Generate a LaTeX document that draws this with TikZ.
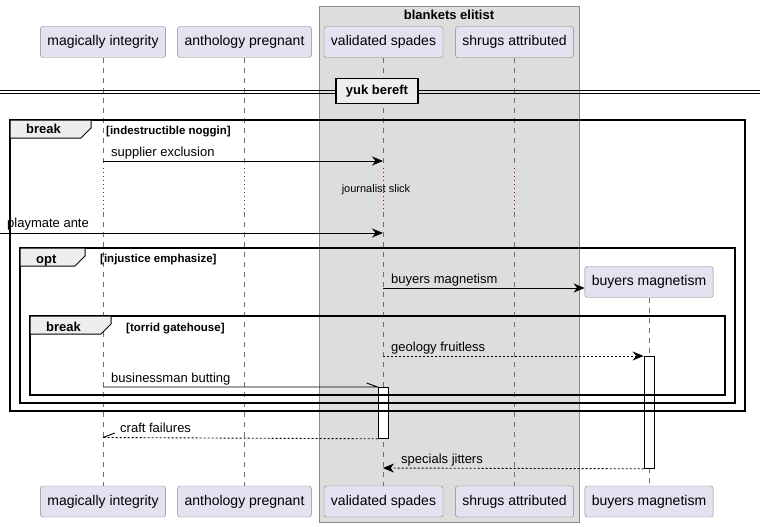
\documentclass[tikz,border=0pt]{standalone}
\usepackage{fontspec}
\setmainfont{Liberation Sans}
\usetikzlibrary{arrows.meta}
\definecolor{partfill}{HTML}{E2E2F0}
\definecolor{partline}{HTML}{858585}
\definecolor{grpfill}{HTML}{DDDDDD}
\definecolor{grpline}{HTML}{8A8A8A}
\definecolor{tabfill}{HTML}{EEEEEE}
\definecolor{lifegray}{HTML}{6E6E6E}
\definecolor{delayred}{HTML}{A80036}
\tikzset{
  actor/.style={draw=partline, fill=partfill, rounded corners=2.5pt, minimum height=31pt, inner xsep=7pt, font=\fontsize{14}{16}\selectfont},
  lifeline/.style={draw=lifegray, line width=0.8pt, dash pattern=on 5pt off 5pt},
  delayline/.style={draw=delayred, line width=0.8pt, dash pattern=on 1pt off 3pt},
  msg/.style={line width=0.9pt, -{Stealth[length=11pt,width=9pt,inset=3.5pt]}},
  rmsg/.style={msg, dash pattern=on 2pt off 2pt},
  msgtext/.style={anchor=base west, inner sep=0pt, font=\fontsize{13}{15}\selectfont},
  condtext/.style={anchor=base west, inner sep=0pt, font=\bfseries\fontsize{11.5}{13}\selectfont},
  tabtext/.style={anchor=base west, inner sep=0pt, font=\bfseries\fontsize{13}{15}\selectfont},
  grpframe/.style={draw, line width=1.5pt},
  grptab/.style={draw, line width=1pt, fill=tabfill},
  actbar/.style={draw, fill=white, line width=0.8pt, minimum width=10pt, inner sep=0pt, anchor=north},
}
\begin{document}
\begin{tikzpicture}[x=1pt,y=-1pt]
\useasboundingbox (0,0) rectangle (760,527);
% box round two participants
\draw[grpline, fill=grpfill] (319,6) rectangle (579,522);
\node[font=\bfseries\fontsize{13}{15}\selectfont] (grp) at (449,15) {blankets elitist};
% participants, top and bottom
\node[actor] (mi) at (103,42) {magically integrity};
\node[actor] (ap) at (244.5,42) {anthology pregnant};
\node[actor] (vs) at (383.5,42) {validated spades};
\node[actor] (sa) at (514.5,42) {shrugs attributed};
\node[actor] (mi-b) at (103,501.5) {magically integrity};
\node[actor] (ap-b) at (244.5,501.5) {anthology pregnant};
\node[actor] (vs-b) at (383.5,501.5) {validated spades};
\node[actor] (sa-b) at (514.5,501.5) {shrugs attributed};
\node[actor] (bm-b) at (649,501.5) {buyers magnetism};
% lifelines with the delay
\foreach \p in {mi,ap,vs,sa} {
  \draw[lifeline] (\p.south) -- (\p.south |- 0,168);
  \draw[delayline] (\p.south |- 0,168) -- (\p.south |- 0,212);
  \draw[lifeline] (\p.south |- 0,212) -- (\p-b.north);
}
\node[font=\fontsize{11}{12}\selectfont] (delay) at (376,190) {journalist slick};
% divider
\draw[line width=1pt] (0,90) -- (760,90);
\draw[line width=1pt] (0,93.3) -- (760,93.3);
\node[draw, line width=1.5pt, fill=tabfill, minimum width=82pt, minimum height=25pt, inner sep=0pt, font=\bfseries\fontsize{13}{15}\selectfont] (div) at (377,91) {yuk bereft};
% messages
\coordinate (m1a) at (103,161);
\coordinate (m1b) at (383,161);
\draw[msg] (m1a) -- (m1b);
\node[msgtext] (t1) at (111,156) {supplier exclusion};
\coordinate (m2a) at (0,233);
\coordinate (m2b) at (383,233);
\draw[msg] (m2a) -- (m2b);
\node[msgtext] (t2) at (7,227.5) {playmate ante};
\coordinate (m3a) at (383,288);
\node[actor] (bm) at (649,282) {buyers magnetism};
\draw[lifeline] (bm.south) -- (bm-b.north);
\draw[msg] (m3a) -- ([yshift=-6pt]bm.west);
\node[msgtext] (t3) at (391,283) {buyers magnetism};
\node[actbar, minimum height=112pt] (bmact) at (649,356) {};
\node[actbar, minimum height=51pt] (vsact) at (383,387) {};
\coordinate (m4a) at (383,356);
\draw[rmsg] (m4a) -- (bmact.north west);
\node[msgtext] (t4) at (391,351) {geology fruitless};
\coordinate (m5a) at (103,387);
\draw[line width=0.9pt] (m5a) -- (vsact.north west) -- ++(-11,-4);
\node[msgtext] (t5) at (111,382) {businessman butting};
\coordinate (m6b) at (103,437.5);
\draw[line width=0.9pt, dash pattern=on 2pt off 2pt] (vsact.south west) -- (m6b);
\draw[line width=0.9pt] (m6b) -- ++(12,-4.5);
\node[msgtext] (t6) at (120,432) {craft failures};
\coordinate (m7b) at (383,468);
\draw[rmsg] (bmact.south west) -- (m7b);
\node[msgtext] (t7) at (401,463) {specials jitters};
% groups
\draw[grpframe] (10,120) rectangle (745,411);
\draw[grptab] (10,120) -- (91,120) -- (91,128) -- (81,138) -- (10,138) -- cycle;
\node[tabtext] (g1) at (26,133.5) {break};
\node[condtext] (c1) at (106,134) {[indestructible noggin]};
\draw[grpframe] (20,248) rectangle (735,403);
\draw[grptab] (20,248) -- (85,248) -- (85,256) -- (75,266) -- (20,266) -- cycle;
\node[tabtext] (g2) at (36,263) {opt};
\node[condtext] (c2) at (100,262) {[injustice emphasize]};
\draw[grpframe] (30,316) rectangle (725,395);
\draw[grptab] (30,316) -- (111,316) -- (111,324) -- (101,334) -- (30,334) -- cycle;
\node[tabtext] (g3) at (46,331) {break};
\node[condtext] (c3) at (126,331) {[torrid gatehouse]};
\end{tikzpicture}
\end{document}
